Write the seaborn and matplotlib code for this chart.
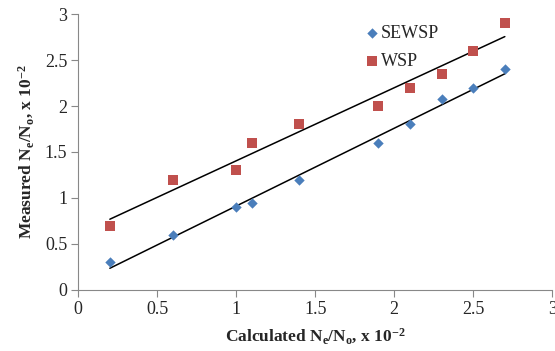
import numpy as np
import pandas as pd
import matplotlib
matplotlib.use("Agg")
import matplotlib.pyplot as plt
import seaborn as sns

calc_x = [0.2, 0.6, 1.0, 1.1, 1.4, 1.9, 2.1, 2.3, 2.5, 2.7]
sewsp = [0.3, 0.6, 0.9, 0.95, 1.2, 1.6, 1.8, 2.08, 2.2, 2.4]
wsp = [0.7, 1.2, 1.3, 1.6, 1.8, 2.0, 2.2, 2.35, 2.6, 2.9]
series_names = ["SEWSP", "WSP"]
x_ticks = [0, 0.5, 1, 1.5, 2, 2.5, 3]
y_ticks = [0, 0.5, 1, 1.5, 2, 2.5, 3]

df = pd.concat([
    pd.DataFrame({"x": calc_x, "y": sewsp, "series": series_names[0]}),
    pd.DataFrame({"x": calc_x, "y": wsp, "series": series_names[1]}),
])

sns.set_style("white")
plt.rcParams["font.family"] = ["Liberation Serif", "DejaVu Serif"]
plt.rcParams["mathtext.fontset"] = "custom"
plt.rcParams["mathtext.rm"] = "Liberation Serif"
plt.rcParams["mathtext.bf"] = "Liberation Serif:bold"
plt.rcParams["mathtext.it"] = "Liberation Serif:italic"

fig = plt.figure(figsize=(5.55, 3.51), dpi=100)
ax = fig.add_axes([0.141, 0.174, 0.854, 0.786])

colors = {"SEWSP": "#4a7ebb", "WSP": "#c0504d"}
markers = {"SEWSP": "D", "WSP": "s"}
sizes_map = {"SEWSP": 28, "WSP": 50}

for name in series_names:
    sub = df[df["series"] == name]
    sns.scatterplot(data=sub, x="x", y="y", ax=ax, color=colors[name],
                    marker=markers[name], s=sizes_map[name], linewidth=0,
                    label=name, zorder=3)
    k, b = np.polyfit(sub["x"], sub["y"], 1)
    xs = np.array([min(calc_x), max(calc_x)])
    ax.plot(xs, k * xs + b, color="black", lw=1.1, zorder=2)

ax.set_xlim(0, 3)
ax.set_ylim(0, 3)
ax.set_xticks(x_ticks)
ax.set_yticks(y_ticks)
ax.set_xticklabels([f"{t:g}" for t in x_ticks])
ax.set_yticklabels([f"{t:g}" for t in y_ticks])
ax.tick_params(axis="both", labelsize=13, length=5, width=0.8, color="#888888",
               direction="out", bottom=True, left=True, pad=3)
for s in ["top", "right"]:
    ax.spines[s].set_visible(False)
for s in ["left", "bottom"]:
    ax.spines[s].set_color("#888888")
    ax.spines[s].set_linewidth(0.8)

ax.set_xlabel(r"Calculated N$_\mathbf{e}$/N$_\mathbf{o}$, x 10$^\mathbf{-2}$",
              fontsize=12.5, fontweight="bold", labelpad=6)
ax.set_ylabel(r"Measured N$_\mathbf{e}$/N$_\mathbf{o}$, x 10$^\mathbf{-2}$",
              fontsize=12.5, fontweight="bold", labelpad=6)

ax.legend(loc="upper left", bbox_to_anchor=(0.57, 1.02), frameon=False,
          fontsize=13, handletextpad=0.1, handlelength=0.8, labelspacing=0.6,
          markerscale=1.0)

fig.savefig("out.png", dpi=100)
